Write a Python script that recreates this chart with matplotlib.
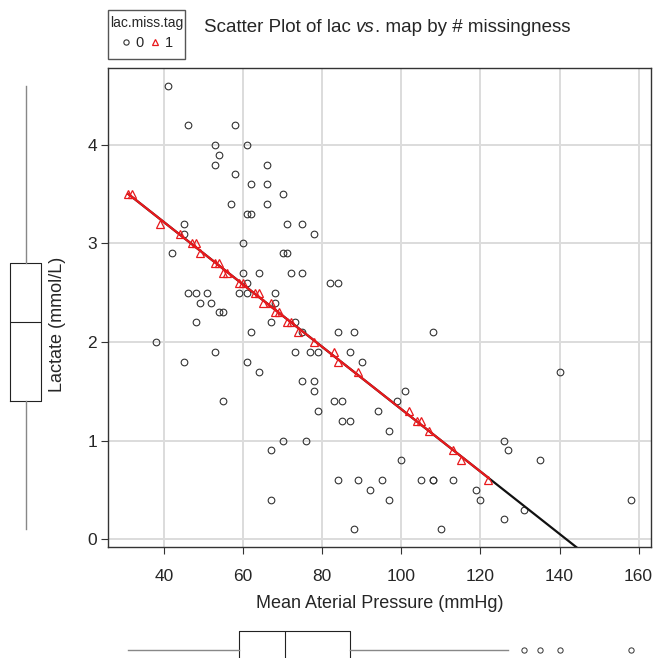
import numpy as np
import matplotlib
matplotlib.use('Agg')
import matplotlib.pyplot as plt
from matplotlib.lines import Line2D
from matplotlib.patches import Rectangle

plt.rcParams['font.family'] = ['Liberation Sans', 'DejaVu Sans']

# lac.miss.tag = 0 (observed lactate)
map_obs = [41, 46, 58, 53, 61, 54, 53, 66, 58, 62, 66, 70, 57, 66, 61, 62, 45, 71, 75, 45, 78, 60, 42, 70, 71,
           60, 64, 72, 75, 61, 82, 84, 46, 48, 51, 59, 61, 68, 49, 52, 68, 54, 55, 48, 67, 73, 62, 75, 84, 88, 108, 38,
           53, 73, 77, 79, 87, 45, 61, 90, 64, 140, 75, 78, 78, 101, 55, 83, 85, 99, 79, 94, 85, 87, 97, 70, 76, 126,
           67, 127, 100, 135, 84, 89, 95, 105, 108, 108, 113, 92, 119, 67, 97, 120, 158, 131, 126, 88, 110]
lac_obs = [4.6, 4.2, 4.2, 4.0, 4.0, 3.9, 3.8, 3.8, 3.7, 3.6, 3.6, 3.5, 3.4, 3.4, 3.3, 3.3, 3.2, 3.2, 3.2, 3.1, 3.1, 3.0, 2.9, 2.9, 2.9,
           2.7, 2.7, 2.7, 2.7, 2.6, 2.6, 2.6, 2.5, 2.5, 2.5, 2.5, 2.5, 2.5, 2.4, 2.4, 2.4, 2.3, 2.3, 2.2, 2.2, 2.2, 2.1, 2.1, 2.1, 2.1, 2.1, 2.0,
           1.9, 1.9, 1.9, 1.9, 1.9, 1.8, 1.8, 1.8, 1.7, 1.7, 1.6, 1.6, 1.5, 1.5, 1.4, 1.4, 1.4, 1.4, 1.3, 1.3, 1.2, 1.2, 1.1, 1.0, 1.0, 1.0,
           0.9, 0.9, 0.8, 0.8, 0.6, 0.6, 0.6, 0.6, 0.6, 0.6, 0.6, 0.5, 0.5, 0.4, 0.4, 0.4, 0.4, 0.3, 0.2, 0.1, 0.1]

# lac.miss.tag = 1 (imputed lactate)
map_imp = [31, 32, 39, 44, 47, 48, 49, 53, 54, 55, 56, 59, 60, 63, 64, 65, 67, 68, 69, 71, 72, 74, 78, 83, 84, 89,
           102, 104, 105, 107, 113, 115, 122]
lac_imp = [3.5, 3.5, 3.2, 3.1, 3.0, 3.0, 2.9, 2.8, 2.8, 2.7, 2.7, 2.6, 2.6, 2.5, 2.5, 2.4, 2.4, 2.3, 2.3, 2.2, 2.2, 2.1, 2.0, 1.9, 1.8, 1.7,
           1.3, 1.2, 1.2, 1.1, 0.9, 0.8, 0.6]

# marginal boxplots: whisker low, Q1, median, Q3, whisker high, outliers
lac_box = [0.1, 1.4, 2.2, 2.8, 4.6]
lac_out = []
map_box = [31, 59, 70.5, 87, 127]
map_out = [131, 135, 140, 158]

x_ticks = [40, 60, 80, 100, 120, 140, 160]
y_ticks = [0, 1, 2, 3, 4]

all_x = np.array(map_obs + map_imp, dtype=float)
all_y = np.array(lac_obs + lac_imp, dtype=float)


def box_stats(five, out):
    return dict(whislo=five[0], q1=five[1], med=five[2], q3=five[3], whishi=five[4], fliers=out)


W, H = 654, 658
fig = plt.figure(figsize=(W / 100, H / 100), dpi=100)
txt = '#262626'
red = '#e8191c'

# main panel
L, R, T, B = 108.3, 650.8, 67.9, 547.1
ax = fig.add_axes([L / W, 1 - B / H, (R - L) / W, (B - T) / H])

xr = all_x.max() - all_x.min()
yr = all_y.max() - all_y.min()
ax.set_xlim(all_x.min() - 0.04 * xr, all_x.max() + 0.04 * xr)
ax.set_ylim(all_y.min() - 0.04 * yr, all_y.max() + 0.04 * yr)
ax.set_xticks(x_ticks)
ax.set_yticks(y_ticks)
ax.grid(True, color='#dcdcdc', linewidth=1.4)
ax.set_axisbelow(True)
for s in ax.spines.values():
    s.set_color('#333333')
    s.set_linewidth(1.0)
ax.tick_params(direction='out', length=5, width=0.8, color='#333333',
               labelsize=12.5, labelcolor=txt)
ax.tick_params(axis='x', pad=11)
ax.tick_params(axis='y', pad=3)

ax.plot(map_obs, lac_obs, 'o', ms=4.8, mfc='none', mec='#333333', mew=0.8, zorder=3)

# regression line through the imputed values
b1, b0 = np.polyfit(map_imp, lac_imp, 1)
xl = np.array([min(map_imp), all_x.max()])
ax.plot(xl, b0 + b1 * xl, color='#111111', lw=1.6, zorder=4)
xi = np.array([min(map_imp), max(map_imp)])
ax.plot(xi, b0 + b1 * xi, color=red, lw=1.6, zorder=5)
ax.plot(map_imp, lac_imp, '^', ms=5.6, mfc='none', mec=red, mew=0.9, zorder=6)

bstyle = dict(showcaps=False,
              boxprops=dict(color='#222222', lw=0.8),
              whiskerprops=dict(color='#888888', lw=1.0),
              medianprops=dict(color='#222222', lw=0.8),
              flierprops=dict(marker='o', ms=3.8, mfc='none', mec='#333333', mew=0.7))

# marginal boxplot of lactate (left)
axl = fig.add_axes([0, 1 - B / H, 52 / W, (B - T) / H])
axl.bxp([box_stats(lac_box, lac_out)], positions=[25.7], widths=31.4, **bstyle)
axl.set_xlim(0, 52)
axl.set_ylim(ax.get_ylim())
axl.axis('off')

# marginal boxplot of map (bottom)
axb = fig.add_axes([L / W, 0, (R - L) / W, 40 / H])
axb.bxp([box_stats(map_box, map_out)], positions=[8.5], widths=38, vert=False, **bstyle)
axb.set_ylim(0, 40)
axb.set_xlim(ax.get_xlim())
axb.axis('off')

# axis titles
fig.text((L + R) / 2 / W, 1 - 603 / H, 'Mean Aterial Pressure (mmHg)', ha='center', va='center',
         fontsize=13, color=txt)
fig.text(57 / W, 1 - 324 / H, 'Lactate (mmol/L)', ha='center', va='center', rotation=90,
         fontsize=13, color=txt)

# title with italic "vs"
fig.canvas.draw()
rend = fig.canvas.get_renderer()
xpos = 204 / W
ypos = 1 - 28 / H
for part, style in [('Scatter Plot of lac ', 'normal'), ('vs', 'italic'), ('. map by # missingness', 'normal')]:
    t = fig.text(xpos, ypos, part, ha='left', va='center', fontsize=13.5, style=style, color=txt)
    bb = t.get_window_extent(renderer=rend)
    xpos += bb.width / W

# legend: frame drawn separately so its box matches the original
fig.add_artist(Rectangle((108 / W, 1 - 59 / H), 77 / W, 49 / H, transform=fig.transFigure,
                         fill=False, ec='#555555', lw=1.0))
h0 = Line2D([], [], ls='none', marker='o', ms=3.8, mfc='none', mec='#333333', mew=0.8)
h1 = Line2D([], [], ls='none', marker='^', ms=4.5, mfc='none', mec=red, mew=0.9)
leg = fig.legend(handles=[h0, h1], labels=['0', '1'], ncol=2, title='lac.miss.tag',
                 loc='center', bbox_to_anchor=(147 / W, 1 - 33 / H), frameon=False,
                 fontsize=10.5, title_fontsize=10, handlelength=0.6,
                 handletextpad=0.35, columnspacing=0.5, borderpad=0.0, borderaxespad=0,
                 labelspacing=0.45, alignment='center')
leg.get_title().set_color(txt)
for t in leg.get_texts():
    t.set_color(txt)

fig.savefig('out.png', dpi=100)
